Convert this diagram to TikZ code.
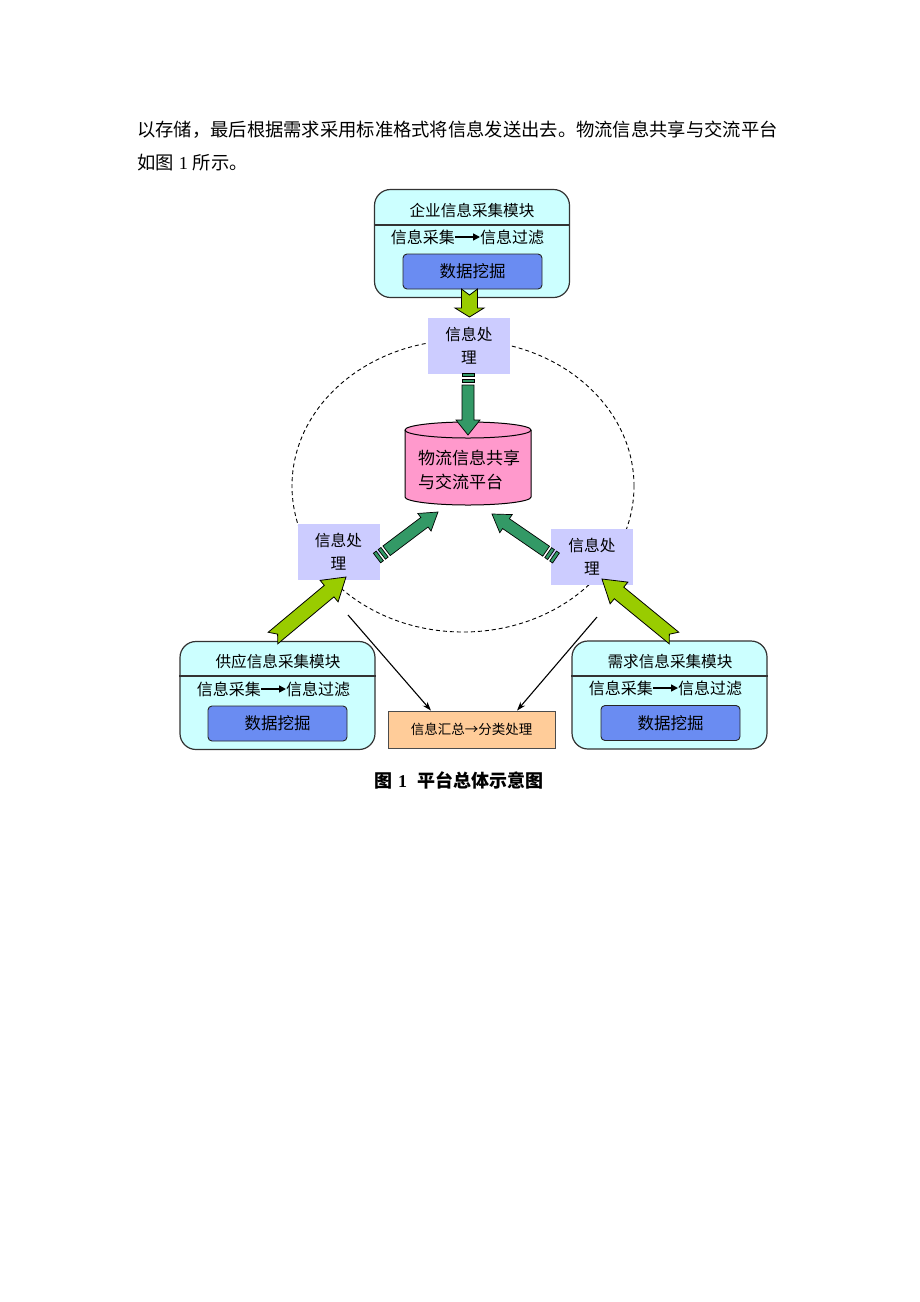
\documentclass[tikz,border=0pt]{standalone}
\usepackage{fontspec}
\setmainfont{Liberation Serif}
\newfontfamily\cjk{Noto Sans CJK SC}
\usepackage{tikz}
\usetikzlibrary{arrows.meta}
\usetikzlibrary{calc}
\definecolor{modfill}{HTML}{CCFFFF}
\definecolor{minefill}{HTML}{6A8CF2}
\definecolor{infofill}{HTML}{CCCCFF}
\definecolor{dbfill}{HTML}{FF99CC}
\definecolor{sumfill}{HTML}{FFCC99}
\definecolor{feedgreen}{HTML}{99CC00}
\definecolor{storegreen}{HTML}{339966}
\tikzset{
  body text/.style={font=\fontsize{18.3}{24}\selectfont,inner sep=0pt},
  module/.style={rectangle,draw=black!80,line width=1.2pt,fill=modfill,rounded corners=16pt,minimum width=195pt,minimum height=108pt},
  mod text/.style={font=\cjk\fontsize{15.6}{18}\selectfont,inner sep=0pt},
  row text/.style={font=\cjk\fontsize{16}{18}\selectfont,inner sep=0pt},
  row arrow/.style={line width=1.5pt,-{Triangle[length=7pt,width=7pt]}},
  mining/.style={rectangle,draw=black!85,line width=0.9pt,fill=minefill,rounded corners=4pt,minimum width=139pt,minimum height=35pt,font=\cjk\fontsize{16.5}{18}\selectfont},
  info node/.style={rectangle,fill=infofill,minimum width=82pt,minimum height=56pt,align=center,inner sep=0pt,font=\cjk\fontsize{15.7}{23}\selectfont},
  sum node/.style={rectangle,draw=black!70,line width=0.8pt,fill=sumfill,minimum width=167pt,minimum height=37pt,font=\cjk\fontsize{13.5}{16}\selectfont},
  feed arrow/.style={fill=feedgreen,draw=black,line width=0.8pt,line join=miter},
  store arrow/.style={fill=storegreen,draw=black,line width=0.7pt,line join=miter}
}
% #1 style, #2 from, #3 to, #4 half shaft, #5 half head, #6 head length, #7 notch
\newcommand\blockarrow[7]{%
  \coordinate (hb) at ($(#3)!#6pt!(#2)$);
  \coordinate (nt) at ($(#2)!#7pt!(#3)$);
  \filldraw[#1] ($(#2)!#4pt!90:(#3)$) -- ($(hb)!#4pt!-90:(#2)$) -- ($(hb)!#5pt!-90:(#2)$) -- (#3)
    -- ($(hb)!#5pt!90:(#2)$) -- ($(hb)!#4pt!90:(#2)$) -- ($(#2)!#4pt!-90:(#3)$) -- (nt) -- cycle;
}
% #1 style, #2 from, #3 to, #4 start, #5 end, #6 half width
\newcommand\stripebar[6]{%
  \coordinate (s1) at ($(#2)!#4pt!(#3)$);
  \coordinate (s2) at ($(#2)!#5pt!(#3)$);
  \filldraw[#1] ($(s1)!#6pt!90:(#3)$) -- ($(s2)!#6pt!90:(#3)$) -- ($(s2)!#6pt!-90:(#3)$) -- ($(s1)!#6pt!-90:(#3)$) -- cycle;
}
\newcommand\stripedarrow[6]{%
  \stripebar{#1}{#2}{#3}{0}{3.5}{#4}
  \stripebar{#1}{#2}{#3}{6}{9.5}{#4}
  \coordinate (sa) at ($(#2)!12pt!(#3)$);
  \blockarrow{#1}{sa}{#3}{#4}{#5}{#6}{0}
}

\begin{document}
\begin{tikzpicture}[x=1pt,y=-1pt,>={Stealth[length=9pt,width=6pt]}]
  \useasboundingbox[fill=white] (0,0) rectangle (920,1302);

  % text of the page
  \node[body text,anchor=west] (p1) at (137,130) {\cjk 以存储，最后根据需求采用标准格式将信息发送出去。物流信息共享与交流平台};
  \node[body text,anchor=west] (p2) at (137,163) {{\cjk 如图}\hspace{5pt}1\hspace{5pt}{\cjk 所示。}};

  % dashed ring
  \draw[dash pattern=on 4pt off 3pt,line width=0.9pt] (463,486) ellipse (171pt and 146pt);

  % enterprise module
  \node[module] (ent) at (472,243.5) {};
  \node[mod text] (entt) at (472,211) {企业信息采集模块};
  \coordinate (entd) at (472,225);
  \draw[line width=1.2pt,draw=black!80] (ent.west |- entd) -- (ent.east |- entd);
  \node[row text,anchor=east] (enta) at (455,237) {信息采集};
  \node[row text,anchor=west] (entb) at (480,237) {信息过滤};
  \draw[row arrow] (enta) -- (entb);
  \node[mining] (entm) at (472.5,271.5) {数据挖掘};

  % supply module
  \node[module] (sup) at (277.5,695.5) {};
  \node[mod text] (supt) at (278,662) {供应信息采集模块};
  \coordinate (supd) at (277.5,676);
  \draw[line width=1.2pt,draw=black!80] (sup.west |- supd) -- (sup.east |- supd);
  \node[row text,anchor=east] (supa) at (261,689) {信息采集};
  \node[row text,anchor=west] (supb) at (286,689) {信息过滤};
  \draw[row arrow] (supa) -- (supb);
  \node[mining] (supm) at (277.5,723.5) {数据挖掘};

  % demand module
  \node[module] (dem) at (669.5,695) {};
  \node[mod text] (demt) at (670,662) {需求信息采集模块};
  \coordinate (demd) at (669.5,676);
  \draw[line width=1.2pt,draw=black!80] (dem.west |- demd) -- (dem.east |- demd);
  \node[row text,anchor=east] (dema) at (653,688) {信息采集};
  \node[row text,anchor=west] (demb) at (678,688) {信息过滤};
  \draw[row arrow] (dema) -- (demb);
  \node[mining] (demm) at (670.5,723) {数据挖掘};

  % summary
  \node[sum node] (sum) at (471.5,729.5) {信息汇总→分类处理};

  % platform store
  \filldraw[fill=dbfill,draw=black,line width=1pt] (405,430) -- (405,497) arc (180:360:63pt and 8pt) -- (531,430) arc (0:180:63pt and 8pt);
  \draw[line width=1pt] (405,430) arc (180:360:63pt and 8pt);
  \node[align=left,inner sep=0pt,font=\cjk\fontsize{17}{24}\selectfont] (db) at (469,470) {物流信息共享\\与交流平台};

  % processing boxes
  \node[info node] (pt) at (469,345.5) {信息处\\理};
  \node[info node] (pl) at (338.5,551.5) {信息处\\理};
  \node[info node] (pr) at (592,556.5) {信息处\\理};

  % feed arrows
  \coordinate (a1) at (469.5,289);
  \coordinate (a2) at (469.5,317);
  \blockarrow{feed arrow}{a1}{a2}{8}{14.5}{9}{6}
  \coordinate (b1) at (273,638);
  \coordinate (b2) at (346,577);
  \blockarrow{feed arrow}{b1}{b2}{7.5}{14}{22}{6}
  \coordinate (c1) at (674,638);
  \coordinate (c2) at (602,579);
  \blockarrow{feed arrow}{c1}{c2}{7.5}{14}{22}{6}

  % store arrows
  \coordinate (d1) at (468,373);
  \coordinate (d2) at (468,435);
  \stripedarrow{store arrow}{d1}{d2}{6}{12}{15}
  \coordinate (e1) at (377,558);
  \coordinate (e2) at (438,512);
  \stripedarrow{store arrow}{e1}{e2}{6}{11}{17}
  \coordinate (f1) at (556,558);
  \coordinate (f2) at (492,514);
  \stripedarrow{store arrow}{f1}{f2}{6}{11}{17}

  % to the summary
  \coordinate (g1) at (348,615);
  \coordinate (h1) at (597,617);
  \draw[->,line width=1.1pt] (g1) -- ([xshift=-40.5pt]sum.north);
  \draw[->,line width=1.1pt] (h1) -- ([xshift=45.5pt]sum.north);

  % caption
  \node[inner sep=0pt,anchor=west,font=\fontsize{18}{20}\selectfont\bfseries] (cap) at (374,780) {{\cjk 图}\hspace{6pt}1\hspace{10pt}{\cjk 平台总体示意图}};
\end{tikzpicture}
\end{document}
